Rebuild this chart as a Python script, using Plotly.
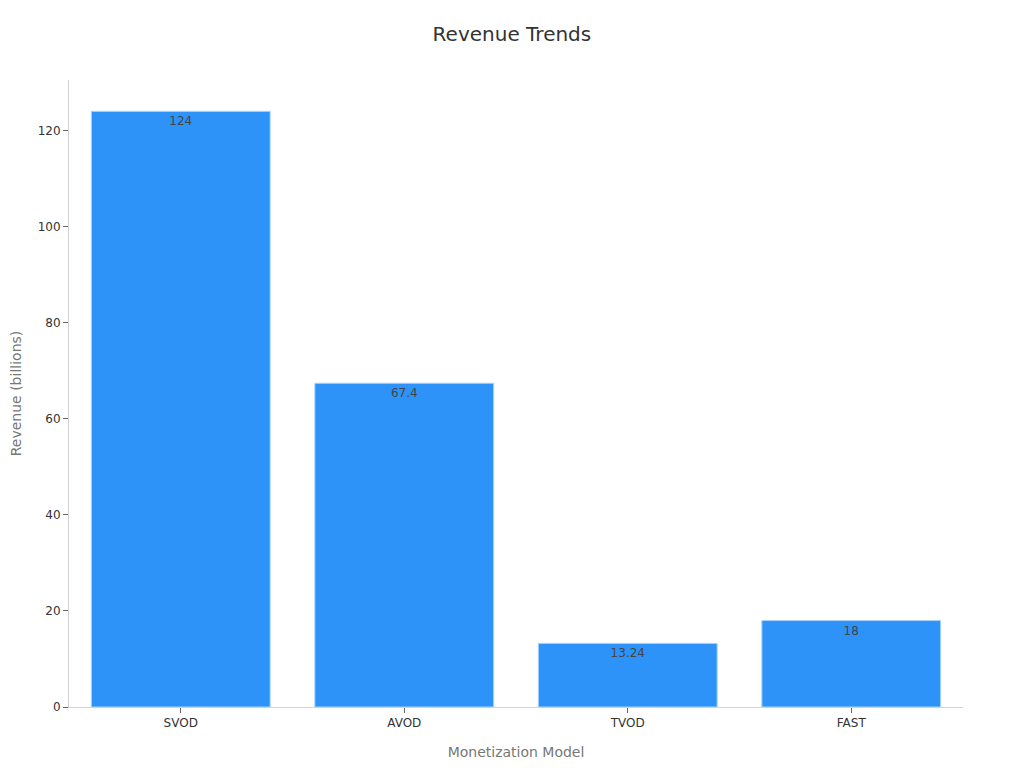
import plotly.graph_objects as go

models = ["SVOD", "AVOD", "TVOD", "FAST"]
revenue = [124, 67.4, 13.24, 18]
labels = ["124", "67.4", "13.24", "18"]

fig = go.Figure(
    go.Bar(
        x=models,
        y=revenue,
        text=labels,
        textposition="inside",
        insidetextanchor="end",
        textfont=dict(color="#444444", size=12),
        marker=dict(color="#2E93F8", line=dict(color="#A8D2FB", width=1)),
    )
)

# page body has an 8px margin, so the figure is sized to fit the window
fig.update_layout(
    width=1016,
    height=760,
    font=dict(family="DejaVu Sans", color="#333333", size=12),
    title=dict(text="Revenue Trends", x=0.496, y=0.975, xanchor="center", yanchor="top",
               font=dict(size=20, color="#333333")),
    plot_bgcolor="white",
    paper_bgcolor="white",
    margin=dict(l=61, r=61, t=72, b=61),
    bargap=0.2,
    showlegend=False,
)
fig.update_xaxes(
    title=dict(text="Monetization Model", font=dict(size=14, color="#777777"), standoff=17),
    showline=True, linecolor="#d3d3d3", linewidth=1,
    ticks="outside", tickcolor="#666666", ticklen=5,
    showgrid=False, automargin=False,
)
fig.update_yaxes(
    title=dict(text="Revenue (billions)", font=dict(size=14, color="#777777"), standoff=24),
    showline=True, linecolor="#d3d3d3", linewidth=1,
    ticks="outside", tickcolor="#666666", ticklen=5,
    showgrid=False, zeroline=False, automargin=False,
)

fig.write_html("out.html")
